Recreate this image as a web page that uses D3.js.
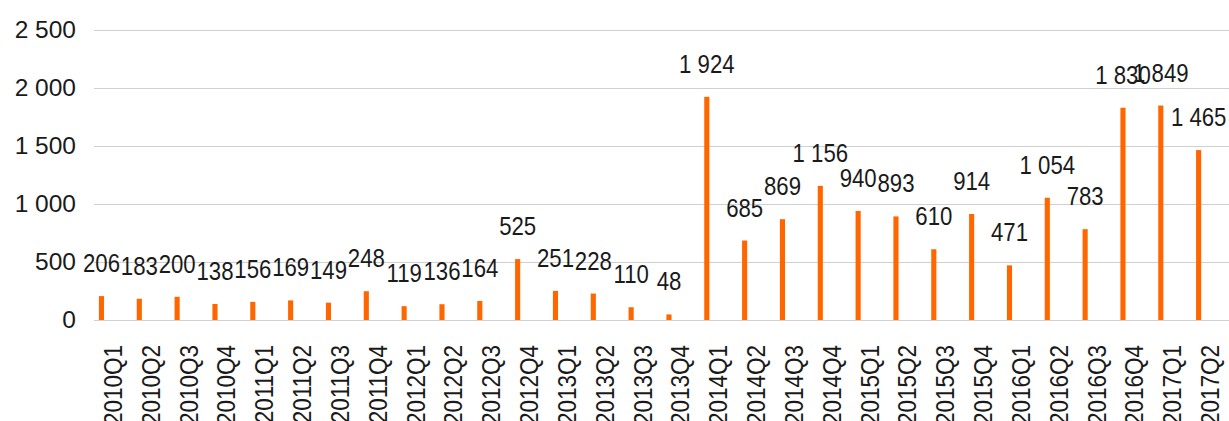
<!DOCTYPE html>
<html>
<head>
<meta charset="utf-8">
<script src="https://cdn.jsdelivr.net/npm/d3@7/dist/d3.min.js"></script>
<style>
  html, body { margin: 0; padding: 0; background: #fff; }
  svg { display: block; }
</style>
</head>
<body>
<svg id="chart" width="1229" height="421"></svg>
<script>
// Quarterly values
const quarters = [
  "2010Q1","2010Q2","2010Q3","2010Q4",
  "2011Q1","2011Q2","2011Q3","2011Q4",
  "2012Q1","2012Q2","2012Q3","2012Q4",
  "2013Q1","2013Q2","2013Q3","2013Q4",
  "2014Q1","2014Q2","2014Q3","2014Q4",
  "2015Q1","2015Q2","2015Q3","2015Q4",
  "2016Q1","2016Q2","2016Q3","2016Q4",
  "2017Q1","2017Q2"
];
const values = [
  206, 183, 200, 138,
  156, 169, 149, 248,
  119, 136, 164, 525,
  251, 228, 110, 48,
  1924, 685, 869, 1156,
  940, 893, 610, 914,
  471, 1054, 783, 1830,
  1849, 1465
];
const yTicks = [0, 500, 1000, 1500, 2000, 2500];

const data = quarters.map((q, i) => ({ q, v: values[i] }));

const svg = d3.select("#chart");
const margin = { left: 94, right: 0, top: 30, bottom: 101 };
const W = 1229, H = 421;

const x = d3.scaleBand()
  .domain(quarters)
  .range([margin.left, W - margin.right])
  .padding(0);

const y = d3.scaleLinear()
  .domain([0, 2500])
  .range([H - margin.bottom, margin.top]);

const fmt = v => d3.format(",")(v).replace(/,/g, " ");
const font = "'Liberation Sans', Arial, sans-serif";
const squeeze = 0.87;   // horizontal compression for a narrower face

// Horizontal gridlines (the zero line doubles as the category axis)
svg.append("g")
  .selectAll("line")
  .data(yTicks)
  .join("line")
  .attr("x1", margin.left)
  .attr("x2", W - margin.right)
  .attr("y1", d => Math.round(y(d)) + 0.5)
  .attr("y2", d => Math.round(y(d)) + 0.5)
  .attr("stroke", "#d0d0d0")
  .attr("stroke-width", 1.2);

// Value axis labels
const yAxis = d3.axisLeft(y)
  .tickValues(yTicks)
  .tickFormat(fmt)
  .tickSize(0)
  .tickPadding(0);

svg.append("g")
  .attr("transform", `translate(76,0)`)
  .call(yAxis)
  .call(g => g.select(".domain").remove())
  .call(g => g.selectAll("text")
    .attr("font-family", font)
    .attr("font-size", 24.5)
    .attr("fill", "#1a1a1a"));

// Bars sit on the left side of each quarter slot
const barOffset = 0.13, barFrac = 0.135;
const barCenter = d => x(d.q) + x.bandwidth() * (barOffset + barFrac / 2);

svg.append("g")
  .selectAll("rect")
  .data(data)
  .join("rect")
  .attr("x", d => x(d.q) + x.bandwidth() * barOffset)
  .attr("width", x.bandwidth() * barFrac)
  .attr("y", d => y(d.v))
  .attr("height", d => y(0) - y(d.v))
  .attr("fill", "#ff6600");

// Value labels above the bars
svg.append("g")
  .selectAll("text")
  .data(data)
  .join("text")
  .attr("transform", d => `translate(${barCenter(d)},${y(d.v) - 24}) scale(${squeeze},1)`)
  .attr("text-anchor", "middle")
  .attr("font-family", font)
  .attr("font-size", 25.5)
  .attr("fill", "#1a1a1a")
  .text(d => fmt(d.v));

// Category axis labels, rotated
const xAxis = d3.axisBottom(x).tickSize(0).tickPadding(0);
svg.append("g")
  .attr("transform", `translate(0,${y(0)})`)
  .call(xAxis)
  .call(g => g.select(".domain").remove())
  .call(g => g.selectAll("text")
    .attr("font-family", font)
    .attr("font-size", 25)
    .attr("fill", "#1a1a1a")
    .attr("text-anchor", "end")
    .attr("transform", "rotate(-90) scale(0.9,1)")
    .attr("x", -25 / 0.9)
    .attr("y", 0)
    .attr("dy", "0.36em"));
</script>
</body>
</html>
